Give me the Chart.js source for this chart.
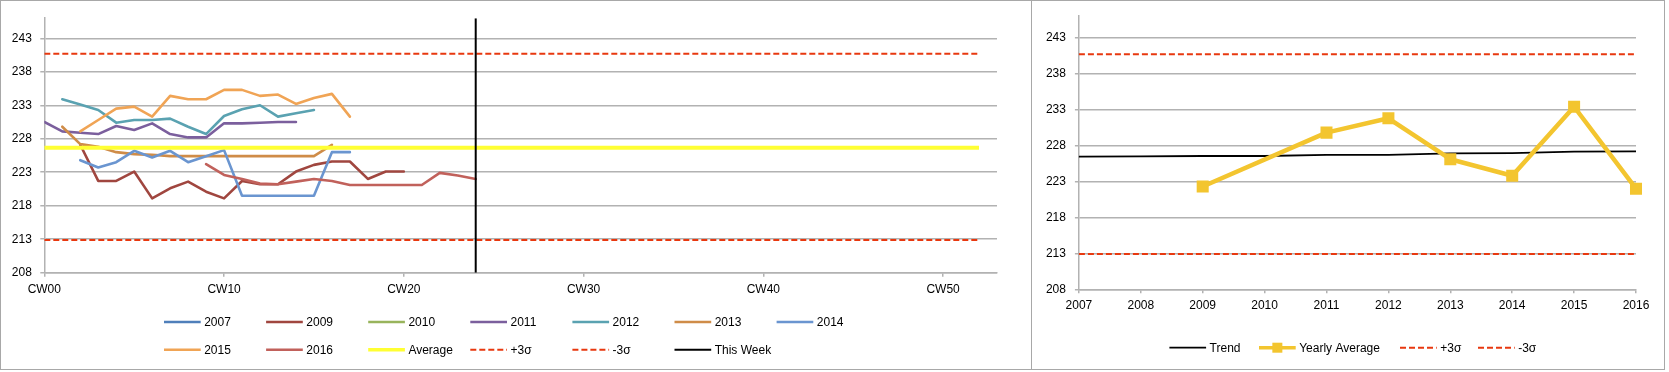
<!DOCTYPE html>
<html><head><meta charset="utf-8">
<script src="https://cdn.jsdelivr.net/npm/chart.js@4.4.1/dist/chart.umd.min.js"></script>
<style>
html,body{margin:0;padding:0;background:#fff;}
#wrap{position:relative;width:1669px;height:372px;overflow:hidden;}
canvas{position:absolute;top:0;}
#c1{left:0;} #c2{left:1032px;}
.frame{position:absolute;left:0;top:0;width:1665px;height:370px;border:1px solid #a8a8a8;box-sizing:border-box;pointer-events:none;}
.sep{position:absolute;left:1031px;top:0;width:1px;height:370px;background:#a8a8a8;pointer-events:none;}
</style></head><body>
<div id="wrap">
<canvas id="c1" width="1031" height="370"></canvas>
<canvas id="c2" width="632" height="370"></canvas>
<div class="frame"></div><div class="sep"></div>
</div>
<script>
// ---------- DATA ----------
const weeks = [0,1,2,3,4,5,6,7,8,9,10,11,12,13,14,15,16,17,18,19,20,21,22,23,24,25,26,27,28,29,30,31,32,33,34,35,36,37,38,39,40,41,42,43,44,45,46,47,48,49,50,51,52];
const weekTicks = [0,10,20,30,40,50];
const weekTickLabels = ['CW00','CW10','CW20','CW30','CW40','CW50'];
const valueTicks = [208,213,218,223,228,233,238,243];

const s2007 = [];
const s2009 = [null,null,227.1,221.7,221.7,223.1,219.1,220.6,221.6,220.1,219.1,221.7,221.2,221.2,223.1,224.1,224.6,224.6,222.0,223.1,223.1];
const s2010 = [];
const s2011 = [230.5,229.1,228.9,228.7,229.9,229.3,230.3,228.7,228.2,228.2,230.3,230.3,230.4,230.5,230.5];
const s2012 = [null,233.9,233.1,232.3,230.4,230.8,230.8,231.0,229.8,228.7,231.4,232.4,233.0,231.3,231.8,232.3];
const s2013 = [null,229.8,227.2,226.8,226.0,225.7,225.6,225.4,225.4,225.4,225.4,225.4,225.4,225.4,225.4,225.4,227.1];
const s2014 = [null,null,224.8,223.7,224.5,226.2,225.2,226.2,224.5,225.4,226.3,219.5,219.5,219.5,219.5,219.5,226.0,226.0];
const s2015 = [null,null,229.1,230.8,232.5,232.8,231.3,234.4,233.9,233.9,235.3,235.3,234.4,234.6,233.2,234.1,234.7,231.3];
const s2016 = [null,null,null,null,null,null,null,null,null,224.2,222.6,222.0,221.3,221.2,221.6,222.0,221.7,221.1,221.1,221.1,221.1,221.1,222.9,222.5,222.0];

const averageValue = 226.65;
const sigmaPlus = 240.7;
const sigmaMinus = 212.9;
const thisWeek = 24;
const weekRange = [0, 52];
const valueRange = [208, 246];

const years = ['2007','2008','2009','2010','2011','2012','2013','2014','2015','2016'];
const trend = [226.45,226.5,226.55,226.55,226.7,226.7,226.9,226.95,227.15,227.2];
const yearlyAverage = [null,null,222.3,null,229.8,231.8,226.1,223.8,233.4,222.0];

// ---------- STYLE ----------
const FONT = {family: '"Liberation Sans", Arial, sans-serif', size: 12};
const GRID = '#b2b2b2';
const SIG = '#e8380f';

const legendPlugin = {
  id: 'fixedLegend',
  afterDraw(chart, args, opts) {
    const ctx = chart.ctx;
    ctx.save();
    ctx.font = '12px "Liberation Sans", Arial, sans-serif';
    ctx.textBaseline = 'middle';
    chart.data.datasets.forEach((ds, i) => {
      const p = opts.positions[i];
      if (!p) return;
      const x = p[0], y = p[1];
      ctx.save();
      ctx.strokeStyle = ds.borderColor;
      ctx.lineWidth = Math.min(ds.borderWidth, 3.5);
      ctx.setLineDash(ds.borderDash || []);
      ctx.lineCap = 'butt';
      ctx.beginPath(); ctx.moveTo(x, y); ctx.lineTo(x + opts.sample, y); ctx.stroke();
      if (ds.pointRadius > 0) {
        ctx.fillStyle = ds.pointBackgroundColor;
        ctx.fillRect(x + opts.sample / 2 - 5, y - 5, 10, 10);
      }
      ctx.restore();
      ctx.fillStyle = '#000';
      ctx.fillText(ds.label, x + opts.sample + 3.5, y + 0.5);
    });
    ctx.restore();
  }
};

function yearLine(label, data, color, idx) {
  return {label, data, borderColor: color, backgroundColor: color, borderWidth: 2.6,
    pointRadius: 0, tension: 0, borderJoinStyle: 'round', borderCapStyle: 'round', order: -idx, spanGaps: false};
}

const leftSets = [
  yearLine('2007', s2007, '#4f7fba', 0),
  yearLine('2009', s2009, '#a0463f', 1),
  yearLine('2010', s2010, '#98b45c', 2),
  yearLine('2011', s2011, '#7b5f9d', 3),
  yearLine('2012', s2012, '#5aa2b1', 4),
  yearLine('2013', s2013, '#cf8c48', 5),
  yearLine('2014', s2014, '#6a95d0', 6),
  yearLine('2015', s2015, '#f0a455', 7),
  yearLine('2016', s2016, '#c1615b', 8),
  {label: 'Average', data: weekRange.map(w => ({x: w, y: averageValue})), borderColor: '#ffff33', borderWidth: 4, pointRadius: 0, order: -9},
  {label: '+3σ', data: weekRange.map(w => ({x: w, y: sigmaPlus})), borderColor: SIG, borderWidth: 2, borderDash: [6,3], pointRadius: 0, order: -10},
  {label: '-3σ', data: weekRange.map(w => ({x: w, y: sigmaMinus})), borderColor: SIG, borderWidth: 2, borderDash: [6,3], pointRadius: 0, order: -11},
  {label: 'This Week', data: valueRange.map(v => ({x: thisWeek, y: v})), borderColor: '#000', borderWidth: 2, pointRadius: 0, order: -12}
];

const leftPositions = leftSets.map((d, i) => [164 + (i % 7) * 102.1, i < 7 ? 322 : 349.7]);

new Chart(document.getElementById('c1'), {
  type: 'line',
  data: {labels: weeks, datasets: leftSets},
  plugins: [legendPlugin],
  options: {
    responsive: false, animation: false,
    layout: {padding: {left: 0, top: 18.2, right: 34, bottom: 0}},
    plugins: {legend: {display: false}, tooltip: {enabled: false},
      fixedLegend: {positions: leftPositions, sample: 36.7}},
    scales: {
      x: {type: 'linear', min: 0, max: 53,
        afterBuildTicks: s => { s.ticks = weekTicks.map(v => ({value: v})); },
        afterFit: s => { s.height = 97.3; },
        grid: {drawOnChartArea: false, color: GRID, lineWidth: 1.5, tickLength: 4},
        border: {color: GRID, width: 1.5},
        ticks: {callback: (v, i) => weekTickLabels[i], color: '#000', font: FONT, padding: 6, maxRotation: 0, autoSkip: false}},
      y: {min: valueRange[0], max: valueRange[1],
        afterBuildTicks: s => { s.ticks = valueTicks.map(v => ({value: v})); },
        afterFit: s => { s.width = 44.3; },
        grid: {color: GRID, lineWidth: 1.5, tickLength: 4},
        border: {color: GRID, width: 1.5},
        ticks: {color: '#000', font: FONT, padding: 8.5}}
    }
  }
});

const rightSets = [
  {label: 'Trend', data: trend, borderColor: '#000', borderWidth: 1.8, pointRadius: 0, tension: 0, order: 0},
  {label: 'Yearly Average', data: yearlyAverage, borderColor: '#f3c52f', backgroundColor: '#f3c52f',
    pointBackgroundColor: '#f3c52f', pointBorderColor: '#f3c52f', pointBorderWidth: 0,
    borderWidth: 4.5, pointStyle: 'rect', pointRadius: 8.5, spanGaps: true, tension: 0, borderJoinStyle: 'round', order: -1},
  {label: '+3σ', data: [years[0], years[years.length - 1]].map(y => ({x: y, y: sigmaPlus})), borderColor: SIG, borderWidth: 2, borderDash: [6,3], pointRadius: 0, order: -2},
  {label: '-3σ', data: [years[0], years[years.length - 1]].map(y => ({x: y, y: sigmaMinus})), borderColor: SIG, borderWidth: 2, borderDash: [6,3], pointRadius: 0, order: -3}
];
const rightPositions = [[137.4, 347.7], [227, 347.7], [368, 347.7], [446, 347.7]];

new Chart(document.getElementById('c2'), {
  type: 'line',
  data: {labels: years, datasets: rightSets},
  plugins: [legendPlugin],
  options: {
    responsive: false, animation: false,
    layout: {padding: {left: 0, top: 15.7, right: 28, bottom: 0}},
    plugins: {legend: {display: false}, tooltip: {enabled: false},
      fixedLegend: {positions: rightPositions, sample: 36.7}},
    scales: {
      x: {type: 'category', offset: false,
        afterFit: s => { s.height = 80.7; },
        grid: {drawOnChartArea: false, color: GRID, lineWidth: 1.5, tickLength: 4, offset: false},
        border: {color: GRID, width: 1.5},
        ticks: {color: '#000', font: FONT, padding: 5.5, maxRotation: 0, autoSkip: false}},
      y: {min: valueRange[0], max: valueRange[1],
        afterBuildTicks: s => { s.ticks = valueTicks.map(v => ({value: v})); },
        afterFit: s => { s.width = 46.9; },
        grid: {color: GRID, lineWidth: 1.5, tickLength: 4},
        border: {color: GRID, width: 1.5},
        ticks: {color: '#000', font: FONT, padding: 9}}
    }
  }
});
</script>
</body></html>
